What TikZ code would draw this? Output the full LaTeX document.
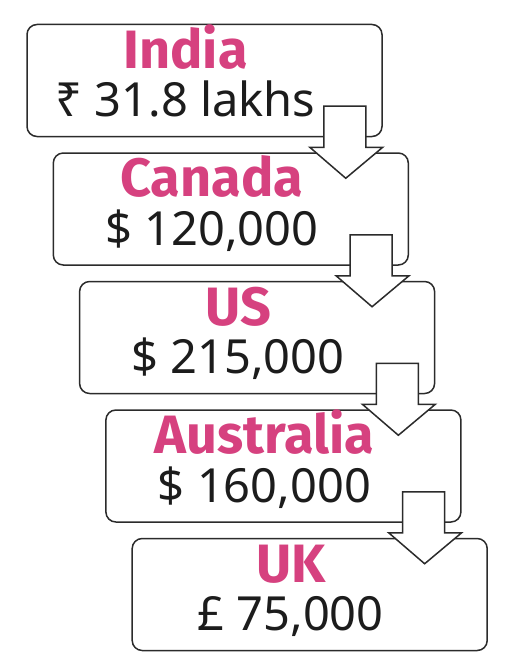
\documentclass[tikz,border=0pt]{standalone}
\usepackage{fontspec}
\setmainfont{Noto Sans}
\newfontfamily\titlefont{Fira Sans}
\usepackage{xcolor}
\usetikzlibrary{positioning, calc}

\definecolor{boxline}{HTML}{2B2B2B}
\definecolor{titlepink}{HTML}{D6417F}
\definecolor{textdark}{HTML}{1C1C1C}

\begin{document}
\begin{tikzpicture}[
  x=1pt, y=-1pt,
  box/.style={rectangle, draw=boxline, line width=1.5pt, rounded corners=10pt, minimum width=355pt, minimum height=112pt, fill=white},
  title/.style={anchor=base, inner sep=0pt, text=titlepink, font=\titlefont\bfseries\fontsize{54}{60}\selectfont},
  amount/.style={anchor=base, inner sep=0pt, text=textdark, font=\fontsize{47}{54}\selectfont},
  downarrow/.style={draw=boxline, line width=1.5pt, fill=white, line join=miter}
]
\useasboundingbox (0,0) rectangle (518,658);

% ── Country boxes (staircase) ────────────────────────────────
\node[box] (india) at (204.5,80.5) {};
\node[box, below=15pt of india, xshift=26.3pt] (canada)    {};
\node[box, below=15pt of canada, xshift=26.3pt] (us)       {};
\node[box, below=15pt of us, xshift=26.3pt] (australia)    {};
\node[box, below=15pt of australia, xshift=26.3pt] (uk)    {};

% ── Titles and amounts ───────────────────────────────────────
\node[title]  (india-t)  at ($(india.north)+(-19,44.5)$) {India};
\node[amount] (india-a)  at ($(india.north)+(-19,93)$)   {₹ 31.8 lakhs};
\node[title]  (canada-t) at ($(canada.north)+(-19,44.5)$) {Canada};
\node[amount] (canada-a) at ($(canada.north)+(-19,93)$)   {\$ 120,000};
\node[title]  (us-t)     at ($(us.north)+(-19,44.5)$) {US};
\node[amount] (us-a)     at ($(us.north)+(-19,93)$)   {\$ 215,000};
\node[title]  (aus-t)    at ($(australia.north)+(-19,44.5)$) {Australia};
\node[amount] (aus-a)    at ($(australia.north)+(-19,93)$)   {\$ 160,000};
\node[title]  (uk-t)     at ($(uk.north)+(-19,44.5)$) {UK};
\node[amount] (uk-a)     at ($(uk.north)+(-19,93)$)   {£ 75,000};

% ── Block arrows ─────────────────────────────────────────────
\draw[downarrow] ($(india.south east)+(-59,-31)$) -- ($(india.south east)+(-17,-31)$)
  -- ($(india.south east)+(-17,10)$) -- ($(india.south east)+(0,10)$)
  -- ($(india.south east)+(-37,41)$) -- ($(india.south east)+(-73,10)$)
  -- ($(india.south east)+(-59,10)$) -- cycle;
\draw[downarrow] ($(canada.south east)+(-59,-31)$) -- ($(canada.south east)+(-17,-31)$)
  -- ($(canada.south east)+(-17,10)$) -- ($(canada.south east)+(0,10)$)
  -- ($(canada.south east)+(-37,41)$) -- ($(canada.south east)+(-73,10)$)
  -- ($(canada.south east)+(-59,10)$) -- cycle;
\draw[downarrow] ($(us.south east)+(-59,-31)$) -- ($(us.south east)+(-17,-31)$)
  -- ($(us.south east)+(-17,10)$) -- ($(us.south east)+(0,10)$)
  -- ($(us.south east)+(-37,41)$) -- ($(us.south east)+(-73,10)$)
  -- ($(us.south east)+(-59,10)$) -- cycle;
\draw[downarrow] ($(australia.south east)+(-59,-31)$) -- ($(australia.south east)+(-17,-31)$)
  -- ($(australia.south east)+(-17,10)$) -- ($(australia.south east)+(0,10)$)
  -- ($(australia.south east)+(-37,41)$) -- ($(australia.south east)+(-73,10)$)
  -- ($(australia.south east)+(-59,10)$) -- cycle;
\end{tikzpicture}
\end{document}
